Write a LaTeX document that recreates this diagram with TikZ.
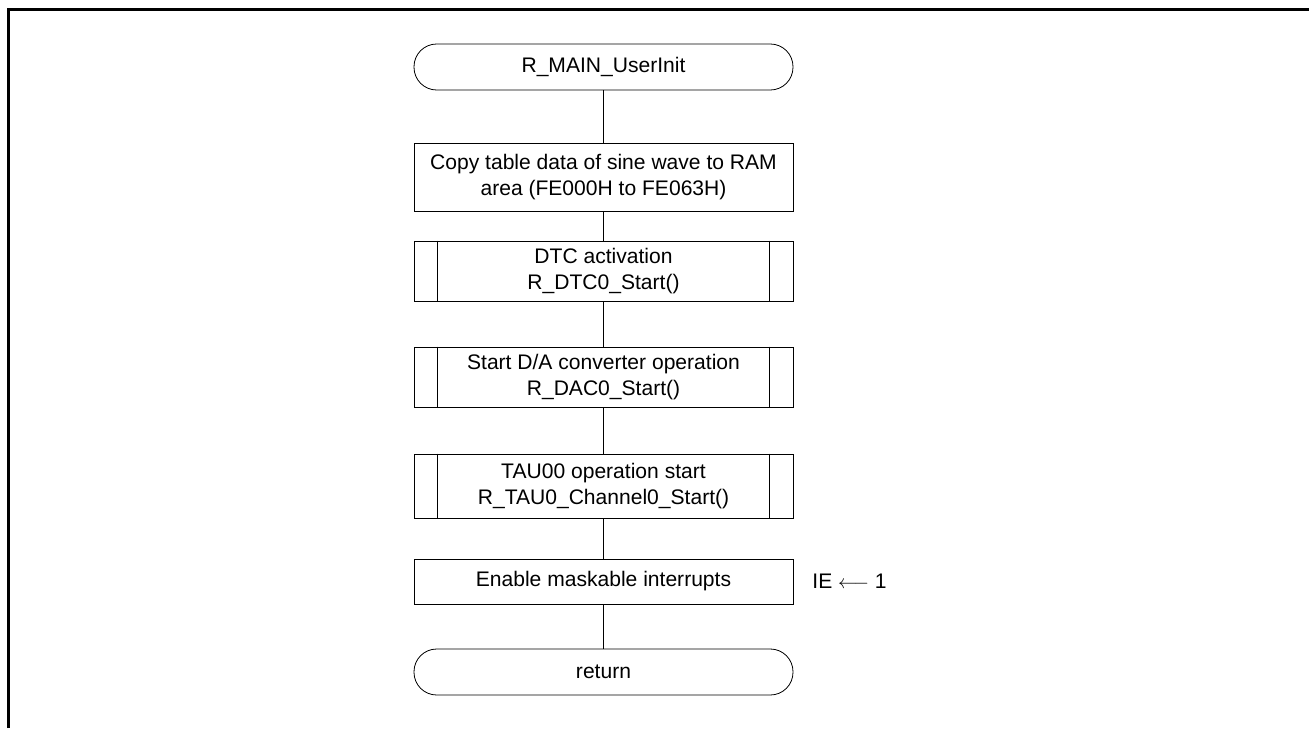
\documentclass[tikz,border=0pt]{standalone}
\usepackage{fontspec}
\setmainfont{Liberation Sans}
\begin{document}
\begin{tikzpicture}[x=0.75pt,y=-0.75pt,line width=0.6pt,
  every node/.style={font=\fontsize{15.8}{20}\selectfont,align=center,inner sep=0pt},
  term/.style={draw,rounded corners=17pt,minimum width=284.25pt,minimum height=34.5pt},
  proc/.style={draw,minimum width=284.25pt}]
  \useasboundingbox (0,0) rectangle (1309,728);
  \draw[line width=2.25pt] (8,728) -- (8,9) -- (1309,9);
  \node[term] (start) at (603.5,67) {R\_MAIN\_UserInit};
  \node[proc,minimum height=51pt] (copy) at (603.5,177) {Copy table data of sine wave to RAM\\area (FE000H to FE063H)};
  \node[proc,minimum height=45pt] (dtc) at (603.5,271) {DTC activation\\R\_DTC0\_Start()};
  \node[proc,minimum height=45pt] (dac) at (603.5,377) {Start D/A converter operation\\R\_DAC0\_Start()};
  \node[proc,minimum height=48pt] (tau) at (603.5,486) {TAU00 operation start\\R\_TAU0\_Channel0\_Start()};
  \node[proc,minimum height=33.75pt] (ie) at (603.5,581.5) {Enable maskable interrupts};
  \node[anchor=west] (ieset) at (812,581.5) {IE $\longleftarrow$ 1};
  \node[term] (ret) at (603.5,672) {return};
  \foreach \n in {dtc,dac,tau}
    \draw ([xshift=18pt]\n.north west) -- ([xshift=18pt]\n.south west)
          ([xshift=-18pt]\n.north east) -- ([xshift=-18pt]\n.south east);
  \draw (start) to (copy);
  \draw (copy) to (dtc);
  \draw (dtc) to (dac);
  \draw (dac) to (tau);
  \draw (tau) to (ie);
  \draw (ie) to (ret);
\end{tikzpicture}
\end{document}
